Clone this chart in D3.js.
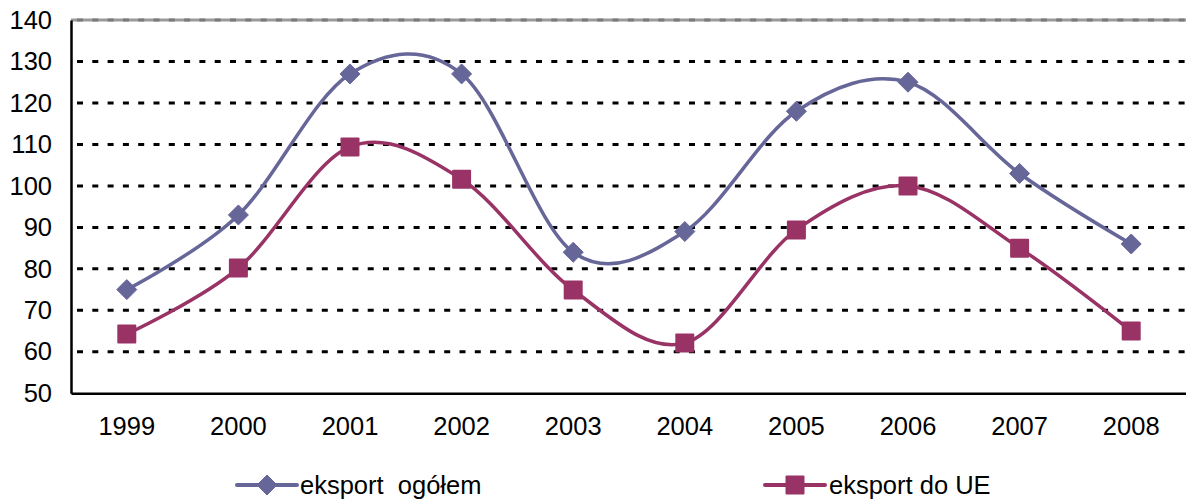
<!DOCTYPE html>
<html>
<head>
<meta charset="utf-8">
<script src="https://cdn.jsdelivr.net/npm/d3@7"></script>
<style>
  body { margin: 0; background: #fff; }
  svg { display: block; font-family: "Liberation Sans", Arial, sans-serif; }
</style>
</head>
<body>
<svg id="chart" width="1186" height="501"></svg>
<script>
// data
const years = ["1999", "2000", "2001", "2002", "2003", "2004", "2005", "2006", "2007", "2008"]
const eksportOgolem = [75, 93, 127, 127, 84, 89, 118, 125, 103, 86]
const eksportUE = [64.3, 80.2, 109.4, 101.6, 74.9, 62.1, 89.4, 100, 85, 65]
const yTicks = [50, 60, 70, 80, 90, 100, 110, 120, 130, 140]

const svg = d3.select("#chart")

/**
 * Plot area
 */
const margin = { left: 71, right: -1, top: 20, bottom: 108 }
const width = 1186, height = 501
const fontSize = 25.5

const x = d3.scaleBand()
    .domain(years)
    .range([margin.left, width - margin.right])

const y = d3.scaleLinear()
    .domain([50, 140])
    .range([height - margin.bottom + 0.3, margin.top])

/**
 * Gridlines
 */
svg.append("g")
    .selectAll("line")
    .data(yTicks.filter(d => d > 50 && d < 140))
    .join("line")
    .attr("x1", margin.left + 6)
    .attr("x2", width)
    .attr("y1", d => y(d))
    .attr("y2", d => y(d))
    .attr("stroke", "#000")
    .attr("stroke-width", 3)
    .attr("stroke-dasharray", "6,9.3")

// top line (140) is gray with darker dashes
svg.append("line")
    .attr("x1", margin.left).attr("x2", width)
    .attr("y1", y(140)).attr("y2", y(140))
    .attr("stroke", "#9a9a9a").attr("stroke-width", 3)
svg.append("line")
    .attr("x1", margin.left + 6).attr("x2", width)
    .attr("y1", y(140)).attr("y2", y(140))
    .attr("stroke", "#7a7a7a").attr("stroke-width", 3)
    .attr("stroke-dasharray", "6,9.3")

/**
 * Axes
 */
const yAxis = d3.axisLeft(y).tickValues(yTicks).tickSize(0).tickPadding(19)
const gy = svg.append("g")
    .attr("transform", "translate(" + margin.left + ",0)")
    .call(yAxis)
gy.select(".domain").attr("stroke", "#000").attr("stroke-width", 2.5)
gy.selectAll("text").attr("font-size", fontSize).attr("fill", "#000")
    .attr("font-family", "Liberation Sans, Arial, sans-serif")

const xAxis = d3.axisBottom(x).tickSize(0).tickPadding(24)
const gx = svg.append("g")
    .attr("transform", "translate(0," + y(50) + ")")
    .call(xAxis)
gx.select(".domain").attr("stroke", "#000").attr("stroke-width", 2.5)
gx.selectAll("text").attr("font-size", fontSize).attr("fill", "#000")
    .attr("font-family", "Liberation Sans, Arial, sans-serif")

/**
 * Series
 */
const series = [
    { name: "eksport  ogółem", values: eksportOgolem, color: "#666699", marker: "diamond" },
    { name: "eksport do UE", values: eksportUE, color: "#993366", marker: "square" },
]

const line = d3.line()
    .x((d, i) => x(years[i]) + x.bandwidth() / 2)
    .y(d => y(d))
    .curve(d3.curveCatmullRom.alpha(0))

function drawMarker(g, type, color) {
    if (type === "diamond") {
        g.append("path")
            .attr("d", "M0,-10L10,0L0,10L-10,0Z")
            .attr("fill", color)
            .attr("stroke", color).attr("stroke-width", 1).attr("stroke-linejoin", "round")
    } else {
        g.append("rect")
            .attr("x", -9.5).attr("y", -9.5)
            .attr("width", 19).attr("height", 19)
            .attr("rx", 1)
            .attr("fill", color)
    }
}

series.forEach(s => {
    svg.append("path")
        .datum(s.values)
        .attr("d", line)
        .attr("fill", "none")
        .attr("stroke", s.color)
        .attr("stroke-width", 3.5)

    s.values.forEach((v, i) => {
        const g = svg.append("g")
            .attr("transform", "translate(" + (x(years[i]) + x.bandwidth() / 2) + "," + y(v) + ")")
        drawMarker(g, s.marker, s.color)
    })
})

/**
 * Legend
 */
const legendPos = [237, 765]
series.forEach((s, i) => {
    const lg = svg.append("g").attr("transform", "translate(" + legendPos[i] + ",485)")
    lg.append("line")
        .attr("x1", 0).attr("x2", 60)
        .attr("stroke", s.color).attr("stroke-width", 4).attr("stroke-linecap", "round")
    const m = lg.append("g").attr("transform", "translate(30,0)")
    drawMarker(m, s.marker, s.color)
    lg.append("text")
        .attr("x", i === 0 ? 63 : 64)
        .attr("y", 9)
        .attr("font-size", fontSize)
        .attr("fill", "#000")
        .attr("xml:space", "preserve")
        .style("white-space", "pre")
        .text(s.name)
})
</script>
</body>
</html>
